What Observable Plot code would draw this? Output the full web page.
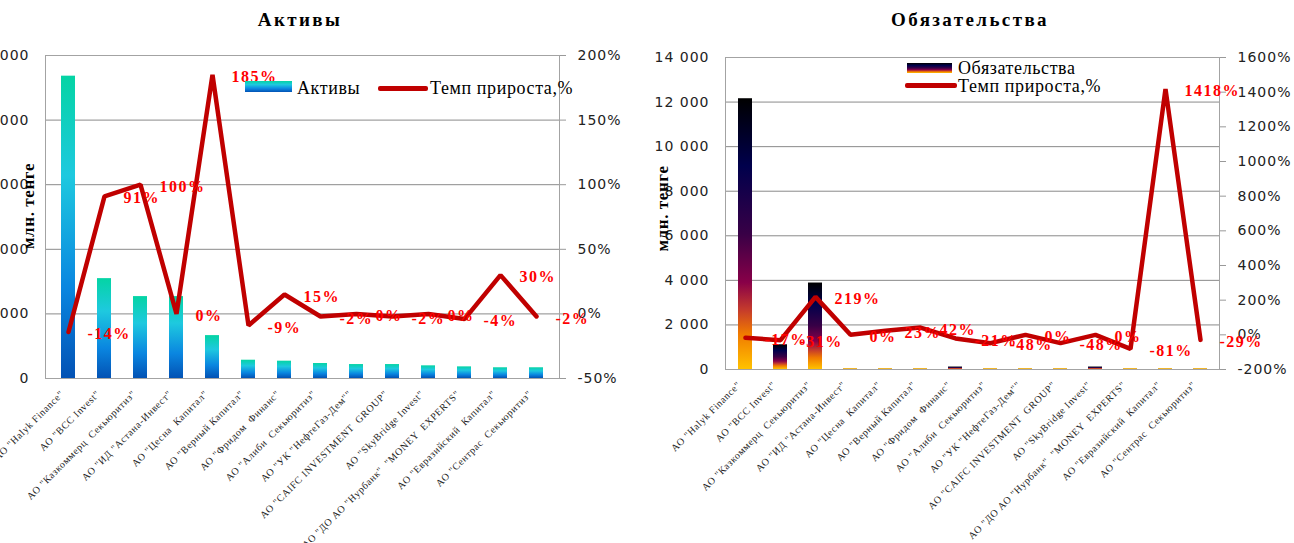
<!DOCTYPE html>
<html>
<head>
<meta charset="utf-8">
<script src="https://cdn.jsdelivr.net/npm/d3@7"></script>
<script src="https://cdn.jsdelivr.net/npm/@observablehq/plot@0.6"></script>
<style>
  body { margin: 0; background: #fff; }
  #root { position: relative; width: 1294px; height: 543px; overflow: hidden; background: #fff; }
  .layer { position: absolute; top: 0; }
  .layer svg { display: block; }
  .title { position: absolute; font-family: "Liberation Serif", serif; font-weight: bold; font-size: 19px;
           letter-spacing: 2.4px; transform: translate(-50%, -50%); white-space: nowrap; color: #000; }
  .lgtext { position: absolute; font-family: "Liberation Serif", serif; font-size: 18px; letter-spacing: 0.6px;
            transform: translateY(-50%); white-space: nowrap; color: #000; }
  .sw { position: absolute; }
  [aria-label="y-axis tick label"] text { letter-spacing: 1px; }
  .bars g[aria-label="text"] text { letter-spacing: 0.6px; }
  .lines g[aria-label="text"] text { letter-spacing: 1.5px; }
</style>
</head>
<body>
<div id="root"></div>
<script>
// ---------- data ----------
const categories = [
  'АО "Halyk Finance"',
  'АО "BCC Invest"',
  'АО "Казкоммерц  Секьюритиз"',
  'АО "ИД "Астана-Инвест"',
  'АО "Цесна  Капитал"',
  'АО "Верный Капитал"',
  'АО "Фридом  Финанс"',
  'АО "Алиби  Секьюритиз"',
  'АО "УК "НефтеГаз-Дем""',
  'АО "CAIFC INVESTMENT  GROUP"',
  'АО "SkyBridge Invest"',
  'АО "ДО АО "Нурбанк"  "MONEY  EXPERTS"',
  'АО "Евразийский  Капитал"',
  'АО "Сентрас  Секьюритиз"'
];
const assets = [23400, 7730, 6340, 6340, 3320, 1415, 1340, 1160, 1080, 1080, 980, 900, 830, 830];
const assetsGrowth = [-14, 91, 100, 0, 185, -9, 15, -2, 0, -2, 0, -4, 30, -2];
const liabilities = [12150, 1110, 3880, 45, 45, 45, 110, 45, 45, 45, 110, 45, 45, 45];
const liabilitiesGrowth = [-17, -31, 219, 0, 23, 42, -21, -48, 0, -48, 0, -81, 1418, -29];

const assetsTicks = [0, 5000, 10000, 15000, 20000, 25000];
const assetsGrowthTicks = [-50, 0, 50, 100, 150, 200];
const liabilitiesTicks = [0, 2000, 4000, 6000, 8000, 10000, 12000, 14000];
const liabilitiesGrowthTicks = [-200, 0, 200, 400, 600, 800, 1000, 1200, 1400, 1600];

const titles = ["Активы", "Обязательства"];
const seriesNames = ["Активы", "Обязательства"];
const growthName = "Темп прироста,%";
const yLabel = "млн. тенге";

// ---------- styles ----------
const gradAssets = [[0, "#04d4a4"], [0.33, "#1ec9df"], [0.7, "#0a86e0"], [1, "#0352b4"]];
const gradLiab = [[0, "#000000"], [0.25, "#00004c"], [0.5, "#380046"], [0.68, "#880048"], [0.78, "#c43a2c"], [0.87, "#f07a00"], [1, "#ffc200"]];
const thinBarColor = "#efb52c";

const fmt = d3.formatLocale({decimal: ",", thousands: " ", grouping: [3], currency: ["", ""]}).format(",");
const root = document.getElementById("root");
const NS = "http://www.w3.org/2000/svg";

function addGradient(svg, id, stops) {
  const defs = document.createElementNS(NS, "defs");
  const lg = document.createElementNS(NS, "linearGradient");
  lg.setAttribute("id", id);
  lg.setAttribute("x1", "0"); lg.setAttribute("y1", "0");
  lg.setAttribute("x2", "0"); lg.setAttribute("y2", "1");
  for (const [o, c] of stops) {
    const s = document.createElementNS(NS, "stop");
    s.setAttribute("offset", o);
    s.setAttribute("stop-color", c);
    lg.appendChild(s);
  }
  defs.appendChild(lg);
  svg.insertBefore(defs, svg.firstChild);
}

function makePanel({left, width, margin, values, growth, yTicks, gTicks, gradId, stops, ylabDx, ylabDy}) {
  const height = 543;
  const data = categories.map((c, i) => ({cat: c, v: values[i], g: growth[i]}));
  const yMax = yTicks[yTicks.length - 1];
  const thin = d => d.v < yMax * 0.005;   // bars only ~2px tall show just their bottom colour
  const xOpt = {domain: categories, paddingInner: 0.6, paddingOuter: 0.3, axis: null};
  const common = {
    width, height,
    marginLeft: margin.l, marginRight: margin.r, marginTop: margin.t, marginBottom: margin.b,
    style: {background: "transparent", fontFamily: "DejaVu Sans", fontSize: "14px", color: "#222", overflow: "visible"}
  };
  const bars = Plot.plot({
    ...common,
    x: xOpt,
    y: {domain: [yTicks[0], yMax]},
    marks: [
      Plot.ruleY(yTicks, {stroke: "#8a8a8a", strokeWidth: 1}),
      Plot.barY(data, {filter: d => !thin(d), x: "cat", y: "v", fill: `url(#${gradId})`}),
      Plot.barY(data, {filter: thin, x: "cat", y: "v", fill: thinBarColor}),
      Plot.frame({stroke: "#a3a3a3"}),
      Plot.axisY({ticks: yTicks, tickFormat: fmt, tickSize: 0, tickPadding: 16, label: null}),
      Plot.text(categories, {x: d => d, text: d => d, frameAnchor: "bottom", rotate: -45, textAnchor: "end",
        dx: -4, dy: 16, fontFamily: "Liberation Serif", fontSize: 10, fill: "#222"}),
      Plot.text([yLabel], {text: d => d, frameAnchor: "left", textAnchor: "middle", rotate: -90, dx: ylabDx, dy: ylabDy,
        fontFamily: "Liberation Serif", fontWeight: "bold", fontSize: 17, fill: "#000"})
    ]
  });
  addGradient(bars, gradId, stops);
  const lines = Plot.plot({
    ...common,
    x: xOpt,
    y: {domain: [gTicks[0], gTicks[gTicks.length - 1]]},
    marks: [
      Plot.axisY({anchor: "right", ticks: gTicks, tickFormat: d => d + "%", tickSize: 6, tickPadding: 12,
        label: null, stroke: "#999"}),
      Plot.line(data, {x: "cat", y: "g", stroke: "#c00000", strokeWidth: 4.5, strokeLinejoin: "miter"}),
      Plot.text(data, {x: "cat", y: "g", text: d => d.g + "%", textAnchor: "start", dx: 19, dy: 2,
        fill: "#ff0000", fontWeight: "bold", fontFamily: "Liberation Serif", fontSize: 16})
    ]
  });
  const d1 = document.createElement("div");
  d1.className = "layer bars"; d1.style.left = left + "px"; d1.appendChild(bars);
  const d2 = document.createElement("div");
  d2.className = "layer lines"; d2.style.left = left + "px"; d2.appendChild(lines);
  root.appendChild(d1); root.appendChild(d2);
}

makePanel({left: 0, width: 640, margin: {l: 45, r: 81, t: 55, b: 165},
  values: assets, growth: assetsGrowth, yTicks: assetsTicks, gTicks: assetsGrowthTicks,
  gradId: "gA", stops: gradAssets, ylabDx: -17, ylabDy: -11});
makePanel({left: 640, width: 654, margin: {l: 85, r: 75, t: 57, b: 174},
  values: liabilities, growth: liabilitiesGrowth, yTicks: liabilitiesTicks, gTicks: liabilitiesGrowthTicks,
  gradId: "gL", stops: gradLiab, ylabDx: -63, ylabDy: -5});

// ---------- titles & legends (HTML) ----------
function el(cls, css, text) {
  const d = document.createElement("div");
  d.className = cls;
  Object.assign(d.style, css);
  if (text) d.textContent = text;
  root.appendChild(d);
  return d;
}
const cssGrad = s => "linear-gradient(to bottom, " + s.map(([o, c]) => `${c} ${o * 100}%`).join(", ") + ")";
el("title", {left: "300px", top: "20px"}, titles[0]);
el("title", {left: "970px", top: "20px"}, titles[1]);
// left legend (one row)
el("sw", {left: "245px", top: "81px", width: "47px", height: "11px", background: cssGrad(gradAssets)});
el("lgtext", {left: "297px", top: "88px"}, seriesNames[0]);
el("sw", {left: "378px", top: "86px", width: "50px", height: "4.5px", background: "#c00000", borderRadius: "2px"});
el("lgtext", {left: "430px", top: "88px"}, growthName);
// right legend (two rows)
el("sw", {left: "907px", top: "63px", width: "45px", height: "10px", background: cssGrad(gradLiab)});
el("lgtext", {left: "958px", top: "68px"}, seriesNames[1]);
el("sw", {left: "905px", top: "83px", width: "52px", height: "4.5px", background: "#c00000", borderRadius: "2px"});
el("lgtext", {left: "958px", top: "86px"}, growthName);
</script>
</body>
</html>
